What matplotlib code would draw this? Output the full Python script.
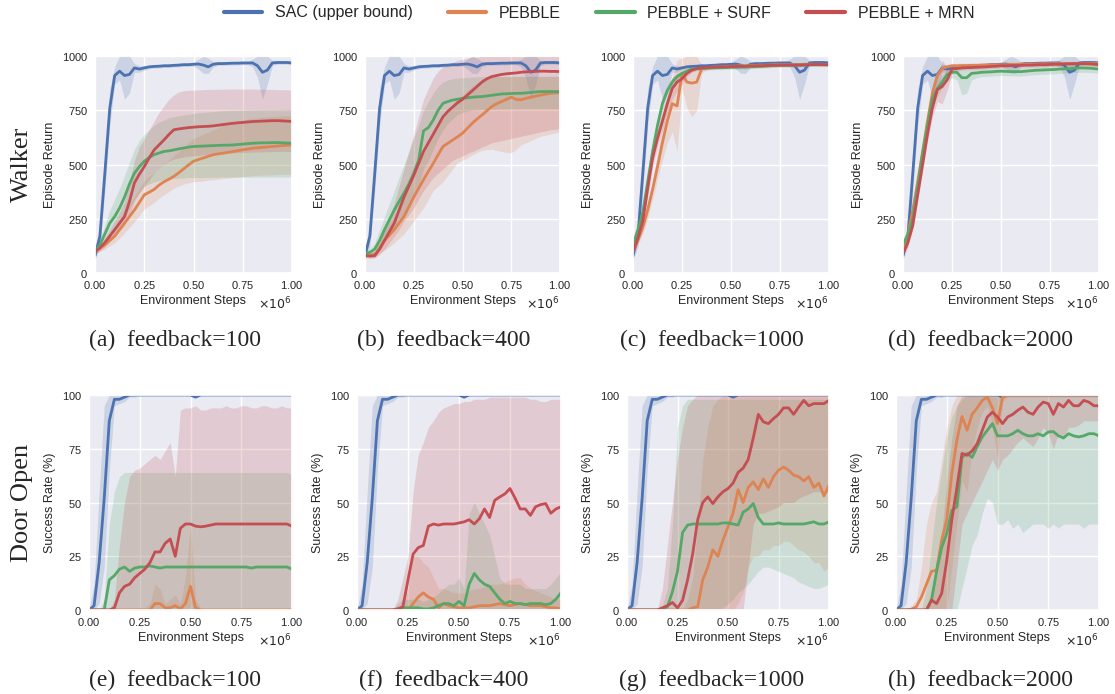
import numpy as np
import matplotlib
matplotlib.use('Agg')
import matplotlib.pyplot as plt
from matplotlib.lines import Line2D
from matplotlib.ticker import ScalarFormatter
import seaborn as sns

sns.set_theme(style='darkgrid')
plt.rcParams['font.family'] = ['Liberation Sans', 'DejaVu Sans']
plt.rcParams['axes.formatter.use_mathtext'] = True

# sampled every 25k environment steps
STEPS = np.linspace(0, 1e6, 41)
METHODS = ['SAC (upper bound)', 'PEBBLE', 'PEBBLE + SURF', 'PEBBLE + MRN']
COLORS = ['#4C72B0', '#DD8452', '#55A868', '#C44E52']
FEEDBACK = [100, 400, 1000, 2000]
LETTERS = ['a', 'b', 'c', 'd', 'e', 'f', 'g', 'h']

# ---------------- Walker : episode return ----------------
WALKER_SAC = [80, 170, 460, 760, 910, 930, 910, 915, 945, 940,
              945, 950, 952, 953, 955, 955, 957, 958, 960, 960,
              962, 963, 958, 950, 962, 965, 965, 966, 967, 967,
              968, 968, 968, 955, 925, 935, 968, 970, 970, 970,
              968]
WALKER_SAC_LO = [60, 120, 380, 680, 870, 890, 800, 830, 925, 925,
                 935, 942, 944, 945, 947, 947, 949, 950, 952, 952,
                 954, 940, 920, 920, 950, 957, 957, 958, 959, 959,
                 960, 960, 950, 900, 800, 870, 955, 962, 962, 962,
                 960]
WALKER_SAC_HI = [100, 230, 540, 850, 950, 1000, 1020, 1000, 965, 955,
                 955, 958, 960, 961, 963, 963, 965, 966, 968, 968,
                 970, 985, 1000, 990, 975, 973, 973, 974, 975, 975,
                 976, 976, 985, 1000, 1020, 1000, 980, 978, 978, 978,
                 976]

W100_PEBBLE = [100, 115, 130, 150, 170, 200, 230, 260, 290, 325,
               360, 372, 385, 405, 420, 432, 445, 462, 480, 498,
               515, 523, 530, 538, 545, 549, 552, 556, 560, 564,
               568, 571, 575, 577, 579, 581, 583, 585, 587, 589,
               590]
W100_PEBBLE_LO = [90, 100, 110, 125, 140, 160, 185, 210, 235, 265,
                  295, 310, 325, 345, 360, 375, 390, 400, 410, 415,
                  420, 422, 425, 428, 430, 432, 435, 437, 440, 442,
                  444, 446, 448, 450, 451, 452, 453, 454, 455, 455,
                  455]
W100_PEBBLE_HI = [110, 130, 160, 185, 210, 250, 290, 320, 350, 390,
                  425, 445, 460, 480, 500, 520, 540, 560, 580, 600,
                  620, 630, 640, 650, 660, 670, 680, 688, 695, 700,
                  705, 710, 712, 715, 718, 720, 722, 723, 724, 725,
                  725]
W100_SURF = [100, 130, 180, 230, 260, 300, 350, 410, 460, 490,
             515, 532, 545, 553, 560, 563, 567, 572, 576, 580,
             583, 584, 585, 586, 587, 588, 589, 589, 590, 592,
             594, 596, 598, 599, 600, 600, 601, 601, 600, 599,
             598]
W100_SURF_LO = [90, 110, 140, 170, 190, 220, 260, 300, 340, 370,
                400, 410, 420, 425, 430, 432, 435, 437, 438, 440,
                440, 440, 440, 441, 441, 441, 442, 442, 442, 442,
                442, 442, 442, 442, 442, 442, 442, 442, 442, 442,
                442]
W100_SURF_HI = [110, 150, 220, 290, 340, 390, 450, 510, 570, 610,
                640, 660, 680, 695, 705, 715, 720, 725, 728, 732,
                735, 738, 740, 742, 744, 746, 748, 749, 750, 750,
                751, 752, 752, 753, 753, 754, 754, 754, 755, 755,
                755]
W100_MRN = [100, 115, 140, 170, 200, 230, 260, 330, 415, 455,
            490, 530, 567, 590, 613, 638, 660, 664, 667, 670,
            672, 674, 675, 676, 678, 681, 684, 687, 690, 692,
            694, 696, 698, 699, 700, 701, 702, 702, 701, 700,
            698]
W100_MRN_LO = [90, 100, 120, 145, 170, 195, 220, 270, 330, 370,
               400, 430, 460, 480, 500, 515, 525, 530, 535, 538,
               540, 542, 544, 546, 548, 550, 551, 552, 553, 554,
               555, 556, 557, 558, 558, 559, 559, 560, 560, 560,
               560]
W100_MRN_HI = [110, 130, 160, 200, 240, 280, 330, 420, 520, 580,
               620, 660, 700, 740, 770, 800, 820, 835, 840, 842,
               843, 844, 845, 846, 846, 847, 847, 848, 848, 848,
               848, 848, 848, 847, 847, 846, 846, 845, 845, 844,
               843]

W400_PEBBLE = [85, 82, 85, 115, 150, 175, 200, 230, 260, 305,
               350, 390, 430, 468, 505, 545, 583, 598, 613, 628,
               644, 667, 690, 710, 728, 748, 767, 780, 790, 800,
               810, 800, 798, 805, 810, 815, 820, 824, 828, 830,
               831]
W400_PEBBLE_LO = [75, 70, 70, 85, 105, 120, 140, 160, 180, 210,
                  240, 270, 300, 340, 380, 400, 420, 450, 480, 510,
                  520, 530, 545, 555, 565, 568, 570, 565, 560, 555,
                  555, 570, 590, 600, 610, 620, 630, 635, 640, 645,
                  650]
W400_PEBBLE_HI = [95, 95, 100, 145, 195, 230, 265, 305, 345, 400,
                  460, 510, 560, 600, 640, 680, 720, 750, 780, 800,
                  820, 840, 860, 875, 890, 900, 905, 905, 905, 905,
                  905, 905, 905, 905, 905, 905, 905, 905, 905, 905,
                  905]
W400_SURF = [90, 95, 110, 150, 200, 245, 290, 330, 368, 410,
             460, 520, 655, 670, 705, 750, 782, 790, 797, 801,
             805, 808, 810, 812, 813, 816, 819, 822, 825, 826,
             827, 828, 828, 830, 832, 834, 836, 836, 836, 836,
             836]
W400_SURF_LO = [80, 85, 95, 120, 150, 180, 210, 240, 270, 310,
                350, 400, 480, 520, 570, 620, 660, 690, 710, 730,
                740, 745, 750, 752, 754, 755, 756, 756, 757, 757,
                758, 758, 758, 758, 758, 758, 758, 758, 758, 758,
                758]
W400_SURF_HI = [100, 110, 140, 200, 260, 320, 380, 440, 500, 560,
                620, 680, 750, 790, 830, 860, 880, 890, 895, 898,
                900, 902, 903, 904, 905, 905, 906, 906, 906, 907,
                907, 907, 907, 907, 907, 907, 907, 907, 907, 907,
                907]
W400_MRN = [80, 78, 80, 110, 150, 190, 230, 290, 350, 400,
            450, 505, 560, 600, 640, 680, 720, 745, 765, 785,
            800, 820, 840, 860, 880, 895, 905, 910, 915, 918,
            920, 922, 925, 927, 928, 929, 930, 930, 929, 929,
            928]
W400_MRN_LO = [70, 68, 70, 90, 110, 140, 170, 200, 240, 270,
               300, 340, 380, 410, 440, 460, 480, 500, 520, 530,
               540, 550, 560, 570, 580, 590, 600, 605, 610, 615,
               620, 625, 630, 635, 640, 645, 650, 655, 660, 662,
               665]
W400_MRN_HI = [90, 90, 100, 140, 200, 260, 320, 400, 480, 560,
               640, 720, 800, 850, 900, 930, 950, 960, 970, 980,
               985, 990, 995, 995, 998, 1000, 1000, 1000, 1000, 1000,
               1000, 1000, 1000, 1000, 1000, 1000, 1000, 1000, 1000, 1000,
               1000]

W1000_PEBBLE = [100, 150, 210, 290, 385, 490, 600, 700, 780, 770,
                920, 880, 875, 880, 940, 945, 948, 950, 950, 952,
                953, 953, 955, 955, 956, 957, 958, 958, 959, 960,
                960, 960, 960, 961, 961, 962, 962, 962, 962, 961,
                960]
W1000_PEBBLE_LO = [90, 130, 180, 250, 340, 430, 520, 600, 650, 560,
                   850, 760, 720, 750, 920, 935, 940, 942, 943, 945,
                   946, 946, 948, 948, 949, 950, 951, 951, 952, 953,
                   953, 953, 953, 954, 954, 955, 955, 955, 955, 954,
                   953]
W1000_PEBBLE_HI = [110, 170, 240, 330, 430, 550, 680, 800, 900, 980,
                   990, 1000, 1000, 1000, 960, 955, 956, 958, 957, 959,
                   960, 960, 962, 962, 963, 964, 965, 965, 966, 967,
                   967, 967, 967, 968, 968, 969, 969, 969, 969, 968,
                   967]
W1000_SURF = [130, 200, 280, 420, 560, 680, 780, 840, 880, 905,
              920, 930, 940, 942, 943, 944, 945, 946, 946, 947,
              948, 948, 949, 949, 950, 951, 952, 953, 955, 956,
              957, 957, 958, 958, 959, 959, 960, 960, 960, 960,
              960]
W1000_SURF_LO = [115, 170, 240, 370, 510, 640, 745, 815, 860, 890,
                 905, 918, 928, 932, 934, 935, 936, 937, 937, 938,
                 939, 939, 940, 940, 941, 942, 943, 944, 946, 947,
                 948, 948, 949, 949, 950, 950, 951, 951, 951, 951,
                 951]
W1000_SURF_HI = [145, 230, 320, 470, 610, 720, 815, 865, 900, 920,
                 935, 942, 952, 952, 952, 953, 954, 955, 955, 956,
                 957, 957, 958, 958, 959, 960, 961, 962, 964, 965,
                 966, 966, 967, 967, 968, 968, 969, 969, 969, 969,
                 969]
W1000_MRN = [100, 160, 240, 390, 530, 620, 700, 780, 850, 880,
             895, 920, 935, 942, 945, 947, 948, 949, 950, 950,
             951, 952, 952, 953, 954, 955, 955, 956, 957, 957,
             958, 958, 958, 958, 958, 959, 960, 961, 961, 960,
             960]
W1000_MRN_LO = [85, 140, 210, 350, 490, 580, 660, 740, 800, 840,
                870, 905, 925, 934, 937, 940, 941, 942, 943, 943,
                944, 945, 945, 946, 947, 948, 948, 949, 950, 950,
                951, 951, 951, 951, 951, 952, 953, 954, 954, 953,
                953]
W1000_MRN_HI = [115, 180, 270, 430, 570, 660, 740, 820, 900, 920,
                920, 935, 945, 950, 953, 954, 955, 956, 957, 957,
                958, 959, 959, 960, 961, 962, 962, 963, 964, 964,
                965, 965, 965, 965, 965, 966, 967, 968, 968, 967,
                967]

W2000_PEBBLE = [110, 180, 290, 420, 560, 700, 830, 910, 943, 950,
                955, 955, 956, 956, 957, 957, 958, 958, 959, 959,
                960, 960, 961, 961, 962, 962, 963, 963, 964, 964,
                964, 965, 965, 965, 965, 966, 966, 966, 966, 965,
                965]
W2000_PEBBLE_LO = [100, 165, 270, 395, 530, 670, 805, 890, 930, 938,
                   943, 944, 945, 945, 946, 946, 947, 947, 948, 948,
                   949, 949, 950, 950, 951, 951, 952, 952, 953, 953,
                   953, 954, 954, 954, 954, 955, 955, 955, 955, 954,
                   954]
W2000_PEBBLE_HI = [120, 195, 310, 445, 590, 730, 855, 930, 958, 962,
                   966, 966, 967, 967, 968, 968, 969, 969, 970, 970,
                   971, 971, 972, 972, 973, 973, 974, 974, 975, 975,
                   975, 976, 976, 976, 976, 977, 977, 977, 977, 976,
                   976]
W2000_SURF = [130, 180, 250, 400, 550, 680, 800, 850, 880, 915,
              925, 925, 900, 900, 920, 922, 925, 926, 927, 929,
              930, 929, 928, 928, 928, 930, 932, 934, 935, 936,
              937, 938, 940, 941, 942, 944, 945, 945, 944, 942,
              940]
W2000_SURF_LO = [115, 160, 225, 370, 510, 640, 760, 815, 850, 885,
                 900, 890, 820, 830, 890, 900, 905, 906, 907, 909,
                 910, 909, 908, 908, 908, 910, 912, 914, 915, 916,
                 917, 918, 920, 921, 922, 924, 925, 925, 924, 922,
                 920]
W2000_SURF_HI = [145, 200, 275, 430, 590, 720, 840, 885, 910, 940,
                 950, 955, 950, 940, 945, 944, 945, 946, 947, 949,
                 950, 949, 948, 948, 948, 950, 952, 954, 955, 956,
                 957, 958, 960, 961, 962, 964, 965, 965, 964, 962,
                 960]
W2000_MRN = [90, 140, 220, 360, 500, 640, 760, 845, 860, 890,
             940, 942, 945, 946, 947, 948, 949, 950, 952, 953,
             955, 955, 956, 956, 957, 958, 958, 959, 960, 960,
             961, 962, 962, 963, 964, 964, 965, 965, 964, 962,
             960]
W2000_MRN_LO = [80, 125, 200, 335, 470, 605, 720, 790, 780, 840,
                920, 930, 935, 936, 937, 938, 939, 940, 942, 943,
                945, 945, 946, 946, 947, 948, 948, 949, 950, 950,
                951, 952, 952, 953, 954, 954, 955, 955, 954, 952,
                950]
W2000_MRN_HI = [100, 155, 240, 385, 530, 675, 800, 900, 980, 950,
                960, 954, 955, 956, 957, 958, 959, 960, 962, 963,
                965, 965, 966, 966, 967, 968, 968, 969, 970, 970,
                971, 972, 972, 973, 974, 974, 975, 975, 974, 972,
                970]

# ---------------- Door Open : success rate (%) ----------------
DOOR_SAC = [0, 2, 22, 52, 88, 98, 98, 99, 100, 100,
            100, 100, 100, 100, 100, 100, 100, 100, 100, 100,
            100, 99, 100, 100, 100, 100, 100, 100, 100, 100,
            100, 100, 100, 100, 100, 100, 100, 100, 100, 100,
            100]
DOOR_SAC_LO = [0, 0, 3, 20, 65, 95, 96, 97, 99, 99] + [100] * 31
DOOR_SAC_HI = [0, 12, 55, 95] + [100] * 37
DOOR_ZERO = [0] * 41

D100_PEBBLE = [0, 0, 0, 0, 0, 0, 0, 0, 0, 0,
               0, 0, 0, 3, 3, 1, 1, 2, 0.5, 3,
               11, 1, 0, 0, 0, 0, 0, 0, 0, 0,
               0, 0, 0, 0, 0, 0, 0, 0, 0, 0,
               0]
D100_PEBBLE_HI = [0, 0, 0, 0, 0, 0, 0, 0, 1, 1,
                  1, 1, 3, 12, 10, 3, 5, 7, 3, 15,
                  40, 5, 1, 0, 0, 0, 0, 0, 0, 0,
                  0, 0, 0, 0, 0, 0, 0, 0, 0, 0,
                  0]
D100_SURF = [0, 0, 0, 0, 14, 16, 19, 20, 18, 19.5,
             20, 20, 20.5, 20, 19.5, 20, 20, 20, 20, 20,
             20, 20, 20, 20, 20, 20, 20, 20, 20, 20,
             20, 20, 19.5, 20, 20, 20, 20, 20, 20, 20,
             19]
D100_SURF_HI = [0, 0, 0, 5, 40, 55, 62, 64, 64, 64,
                64, 64, 64, 64, 64, 64, 64, 64, 64, 64,
                64, 64, 64, 64, 64, 64, 64, 64, 64, 64,
                64, 64, 64, 64, 64, 64, 64, 64, 64, 64,
                63]
D100_MRN = [0, 0, 0, 0, 0, 1, 8, 11, 12, 15,
            17, 19, 22, 27, 27, 31, 33, 25, 38, 40,
            40, 39, 38.7, 39, 39.5, 40, 40, 40, 40, 40,
            40, 40, 40, 40, 40, 40, 40, 40, 40, 40,
            39]
D100_MRN_HI = [0, 0, 0, 0, 0, 5, 30, 50, 62, 65,
               66, 68, 70, 72, 70, 74, 78, 62, 93, 94,
               94, 95, 93, 93, 94, 94, 94, 95, 94, 94,
               95, 95, 94, 94, 95, 95, 94, 94, 95, 94,
               94]

D400_PEBBLE = [0, 0, 0, 0, 0, 0, 0, 0, 0, 0,
               0, 3, 6, 8, 6, 5, 1, 3, 2, 1.5,
               1, 1, 1, 1.5, 2, 2, 2, 2.5, 3, 2.5,
               2, 2.5, 3, 2.5, 2, 2, 2, 1.5, 1, 1,
               0.5]
D400_PEBBLE_HI = [0, 0, 0, 0, 0, 0, 0, 0, 0, 0,
                  10, 25, 25, 22, 20, 15, 10, 10, 9, 8,
                  8, 8, 9, 10, 10, 11, 12, 12, 12, 13,
                  14, 15, 15, 12, 10, 9, 8, 7, 6, 5,
                  5]
D400_SURF = [0, 0, 0, 0, 0, 0, 0, 0, 0.5, 1,
             1, 1, 1, 0.5, 0.5, 1, 2, 3, 3, 2,
             4, 2, 12, 17, 14, 12, 11, 8, 5, 3,
             4, 3, 3, 2.5, 3, 3, 3, 2.5, 3, 5,
             8]
D400_SURF_HI = [0, 0, 0, 0, 0, 0, 0, 0, 3, 5,
                5, 5, 5, 4, 5, 6, 8, 10, 12, 12,
                15, 10, 45, 50, 45, 40, 35, 25, 15, 12,
                12, 12, 12, 10, 10, 10, 10, 10, 12, 15,
                18]
D400_MRN = [0, 0, 0, 0, 0, 0, 0, 0, 0.5, 1.5,
            14, 26, 29, 30, 39, 40, 39.5, 40, 40, 40,
            40.5, 41, 42, 40, 42.5, 47, 43, 51, 52.6, 54,
            56.5, 52, 47, 47, 44, 48, 49, 49.5, 45, 47,
            48]
D400_MRN_HI = [0, 0, 0, 0, 0, 0, 0, 0, 5, 15,
               25, 55, 72, 78, 85, 88, 92, 94, 95, 96,
               96, 97, 97, 98, 98, 98, 99, 99, 99, 99,
               99, 99, 99, 99, 98, 98, 97, 97, 98, 98,
               98]

D1000_PEBBLE = [0, 0, 0, 0, 0, 0, 0, 0, 0, 0,
                0, 0, 0, 1, 1.5, 14, 20, 28, 25, 32.5,
                38.7, 45, 56, 50, 57, 59.6, 56, 61, 57, 62,
                65, 66.5, 65, 62.7, 62, 60, 62, 57, 59, 53,
                58]
D1000_PEBBLE_LO = [0, 0, 0, 0, 0, 0, 0, 0, 0, 0,
                   0, 0, 0, 0, 0, 0, 0, 0, 0, 0,
                   0, 0, 3, 8, 20, 25, 25, 28, 28, 30,
                   30, 32, 32, 30, 28, 27, 25, 22, 22, 18,
                   20]
D1000_PEBBLE_HI = [0, 0, 0, 0, 0, 0, 0, 0, 0, 0,
                   0, 0, 5, 15, 40, 70, 85, 95, 98, 100] + [100] * 21
D1000_SURF = [0, 0, 0, 0, 0, 0, 0, 0, 1.5, 8.5,
              18, 36, 39.5, 40, 40, 40, 40, 40, 40, 40.5,
              40.5, 40, 39.5, 45.5, 47, 49.5, 43, 40, 40, 40,
              40.5, 40, 40, 40, 40, 40, 40.5, 41, 40, 40,
              41]
D1000_SURF_LO = [0, 0, 0, 0, 0, 0, 0, 0, 0, 0,
                 0, 0, 0, 0, 0, 0, 0, 0, 0, 1,
                 3, 5, 8, 10, 12, 15, 18, 20, 20, 19,
                 18, 17, 16, 15, 13, 12, 11, 10, 10, 11,
                 12]
D1000_SURF_HI = [0, 0, 0, 0, 0, 0, 0, 2, 10, 40,
                 85, 95, 98, 98, 98] + [98] * 26
D1000_MRN = [0, 0, 0, 0, 0, 0, 0, 1, 2, 3.5,
             1, 4.5, 14, 26, 42, 50, 52.6, 49.5, 52.6, 55,
             56.5, 59, 64, 66, 70, 80, 91, 87.5, 86.7, 89,
             91, 94, 94, 91, 94.4, 97.5, 95, 96, 96, 96,
             97.5]
D1000_MRN_LO = [0, 0, 0, 0, 0, 0, 0, 0, 0, 0,
                0, 0, 0, 0, 0, 0, 0, 0, 0, 0,
                0, 0, 0, 0, 20, 40, 45, 45, 46, 47,
                48, 50, 50, 50, 52, 53, 54, 55, 55, 55,
                55]
D1000_MRN_HI = [0, 0, 0, 0, 0, 0, 0, 10, 30, 50,
                70, 85, 95, 98] + [100] * 27

D2000_PEBBLE = [0, 0, 0, 0.3, 1.5, 6, 12, 18, 18.5, 32.5,
                42, 63.5, 79, 90, 83.6, 91, 94, 97.5, 99, 94,
                86.7, 99, 100, 100, 100, 100, 100, 100, 100, 100,
                100, 100, 100, 100, 100, 100, 100, 100, 100, 100,
                100]
D2000_PEBBLE_LO = [0, 0, 0, 0, 0, 0, 0, 0, 0, 0,
                   0, 20, 40, 60, 55, 75, 85, 92, 95, 85,
                   70, 97, 99, 99, 99, 99, 99, 99, 99, 99,
                   99, 99, 99, 99, 99, 99, 99, 99, 99, 99,
                   99]
D2000_PEBBLE_HI = [0, 0, 0, 2, 5, 20, 40, 50, 55, 70,
                   85, 95] + [100] * 29
D2000_SURF = [0, 0, 0, 0, 0, 0, 0, 4.6, 18, 29,
              35.6, 46.4, 48, 71, 72.8, 71, 76, 80.5, 83.6, 86.7,
              81, 81, 81, 82, 83.6, 82, 81, 81, 82, 81,
              82.8, 83, 81, 80, 82, 81, 80.5, 81, 82, 82,
              81]
D2000_SURF_LO = [0, 0, 0, 0, 0, 0, 0, 0, 0, 0,
                 0, 0, 0, 10, 20, 30, 35, 45, 52, 50,
                 40, 40, 42, 38, 40, 36, 38, 40, 40, 40,
                 38, 40, 38, 40, 40, 40, 40, 38, 40, 40,
                 40]
D2000_SURF_HI = [0, 0, 0, 0, 0, 0, 10, 30, 50, 65,
                 80, 90, 95, 98] + [100] * 27
D2000_MRN = [0, 0, 0, 0, 0, 0, 0, 4.6, 3, 7.7,
             23, 42, 57, 72.8, 72, 74, 77.4, 83.6, 89.8, 92,
             89.8, 86.7, 89.8, 91, 92.9, 94.4, 92, 91, 94.4, 96.7,
             96, 91, 96, 94.4, 97.5, 95, 95, 97.5, 96.7, 95,
             95]
D2000_MRN_LO = [0, 0, 0, 0, 0, 0, 0, 0, 0, 0,
                0, 0, 20, 40, 45, 50, 55, 60, 65, 70,
                65, 70, 72, 75, 78, 80, 78, 76, 80, 85,
                82, 75, 82, 80, 85, 85, 86, 88, 88, 88,
                88]
D2000_MRN_HI = [0, 0, 0, 0, 0, 0, 0, 10, 20, 35,
                60, 80, 95] + [100] * 28

# (mean, low, high) per method, per panel
walker_panels = [
    [(WALKER_SAC, WALKER_SAC_LO, WALKER_SAC_HI), (W100_PEBBLE, W100_PEBBLE_LO, W100_PEBBLE_HI),
     (W100_SURF, W100_SURF_LO, W100_SURF_HI), (W100_MRN, W100_MRN_LO, W100_MRN_HI)],
    [(WALKER_SAC, WALKER_SAC_LO, WALKER_SAC_HI), (W400_PEBBLE, W400_PEBBLE_LO, W400_PEBBLE_HI),
     (W400_SURF, W400_SURF_LO, W400_SURF_HI), (W400_MRN, W400_MRN_LO, W400_MRN_HI)],
    [(WALKER_SAC, WALKER_SAC_LO, WALKER_SAC_HI), (W1000_PEBBLE, W1000_PEBBLE_LO, W1000_PEBBLE_HI),
     (W1000_SURF, W1000_SURF_LO, W1000_SURF_HI), (W1000_MRN, W1000_MRN_LO, W1000_MRN_HI)],
    [(WALKER_SAC, WALKER_SAC_LO, WALKER_SAC_HI), (W2000_PEBBLE, W2000_PEBBLE_LO, W2000_PEBBLE_HI),
     (W2000_SURF, W2000_SURF_LO, W2000_SURF_HI), (W2000_MRN, W2000_MRN_LO, W2000_MRN_HI)],
]
door_panels = [
    [(DOOR_SAC, DOOR_SAC_LO, DOOR_SAC_HI), (D100_PEBBLE, DOOR_ZERO, D100_PEBBLE_HI),
     (D100_SURF, DOOR_ZERO, D100_SURF_HI), (D100_MRN, DOOR_ZERO, D100_MRN_HI)],
    [(DOOR_SAC, DOOR_SAC_LO, DOOR_SAC_HI), (D400_PEBBLE, DOOR_ZERO, D400_PEBBLE_HI),
     (D400_SURF, DOOR_ZERO, D400_SURF_HI), (D400_MRN, DOOR_ZERO, D400_MRN_HI)],
    [(DOOR_SAC, DOOR_SAC_LO, DOOR_SAC_HI), (D1000_PEBBLE, D1000_PEBBLE_LO, D1000_PEBBLE_HI),
     (D1000_SURF, D1000_SURF_LO, D1000_SURF_HI), (D1000_MRN, D1000_MRN_LO, D1000_MRN_HI)],
    [(DOOR_SAC, DOOR_SAC_LO, DOOR_SAC_HI), (D2000_PEBBLE, D2000_PEBBLE_LO, D2000_PEBBLE_HI),
     (D2000_SURF, D2000_SURF_LO, D2000_SURF_HI), (D2000_MRN, D2000_MRN_LO, D2000_MRN_HI)],
]

W, H = 1115, 694
fig = plt.figure(figsize=(W / 100, H / 100), dpi=100)

# axes boxes in pixels: (left, right), (top, bottom)
top_cols = [(95, 292), (365, 560), (633, 829), (903, 1099)]
bot_cols = [(89, 292), (357, 561), (627, 829), (896, 1099)]
rows = [
    dict(cols=top_cols, ytop=56, ybot=273, panels=walker_panels, ymax=1000,
         yticks=[0, 250, 500, 750, 1000], ylabel='Episode Return', name='Walker', cap_y=340),
    dict(cols=bot_cols, ytop=395, ybot=610, panels=door_panels, ymax=100,
         yticks=[0, 25, 50, 75, 100], ylabel='Success Rate (%)', name='Door Open', cap_y=680),
]
cap_x = [175, 444, 712, 981]

k = 0
for r, row in enumerate(rows):
    for c, (l, rgt) in enumerate(row['cols']):
        ax = fig.add_axes([l / W, 1 - row['ybot'] / H, (rgt - l) / W, (row['ybot'] - row['ytop']) / H])
        for (mean, lo, hi), col in zip(row['panels'][c], COLORS):
            ax.fill_between(STEPS, lo, hi, color=col, alpha=0.2, lw=0)
        for (mean, lo, hi), col in zip(row['panels'][c], COLORS):
            ax.plot(STEPS, mean, color=col, lw=2)
        ax.set_xlim(0, 1e6)
        ax.set_ylim(0, row['ymax'])
        ax.set_xticks([0, 250000, 500000, 750000, 1000000])
        ax.set_yticks(row['yticks'])
        fmt = ScalarFormatter(useMathText=True)
        fmt.set_powerlimits((0, 0))
        ax.xaxis.set_major_formatter(fmt)
        ax.xaxis.get_offset_text().set_visible(False)
        ax.tick_params(length=0, labelsize=8, colors='#262626')
        ax.tick_params(axis='x', pad=4)
        ax.tick_params(axis='y', pad=5)
        ax.set_xlabel('Environment Steps', fontsize=9, labelpad=3, color='#262626')
        ax.set_ylabel(row['ylabel'], fontsize=9, labelpad=4, color='#262626')
        ax.annotate(r'$\times10^{6}$', xy=(1, 0), xycoords='axes fraction',
                    xytext=(0, -22), textcoords='offset points',
                    ha='right', va='center', fontsize=9, color='#262626')
        fig.text(cap_x[c] / W, 1 - row['cap_y'] / H,
                 '(%s)  feedback=%d' % (LETTERS[k], FEEDBACK[c]),
                 family='Liberation Serif', fontsize=17, ha='center', va='center')
        k += 1
    fig.text(22 / W, 1 - (row['ytop'] + row['ybot']) / 2 / H, row['name'],
             family='Liberation Serif', fontsize=19, rotation=90, ha='center', va='center')

handles = [Line2D([], [], color=col, lw=3) for col in COLORS]
fig.legend(handles, METHODS, loc='center', bbox_to_anchor=(599 / W, 1 - 13 / H), ncol=4,
           frameon=False, fontsize=11.5, handlelength=2.4, handletextpad=0.8, columnspacing=2.2)

fig.savefig('out.png', dpi=100)
